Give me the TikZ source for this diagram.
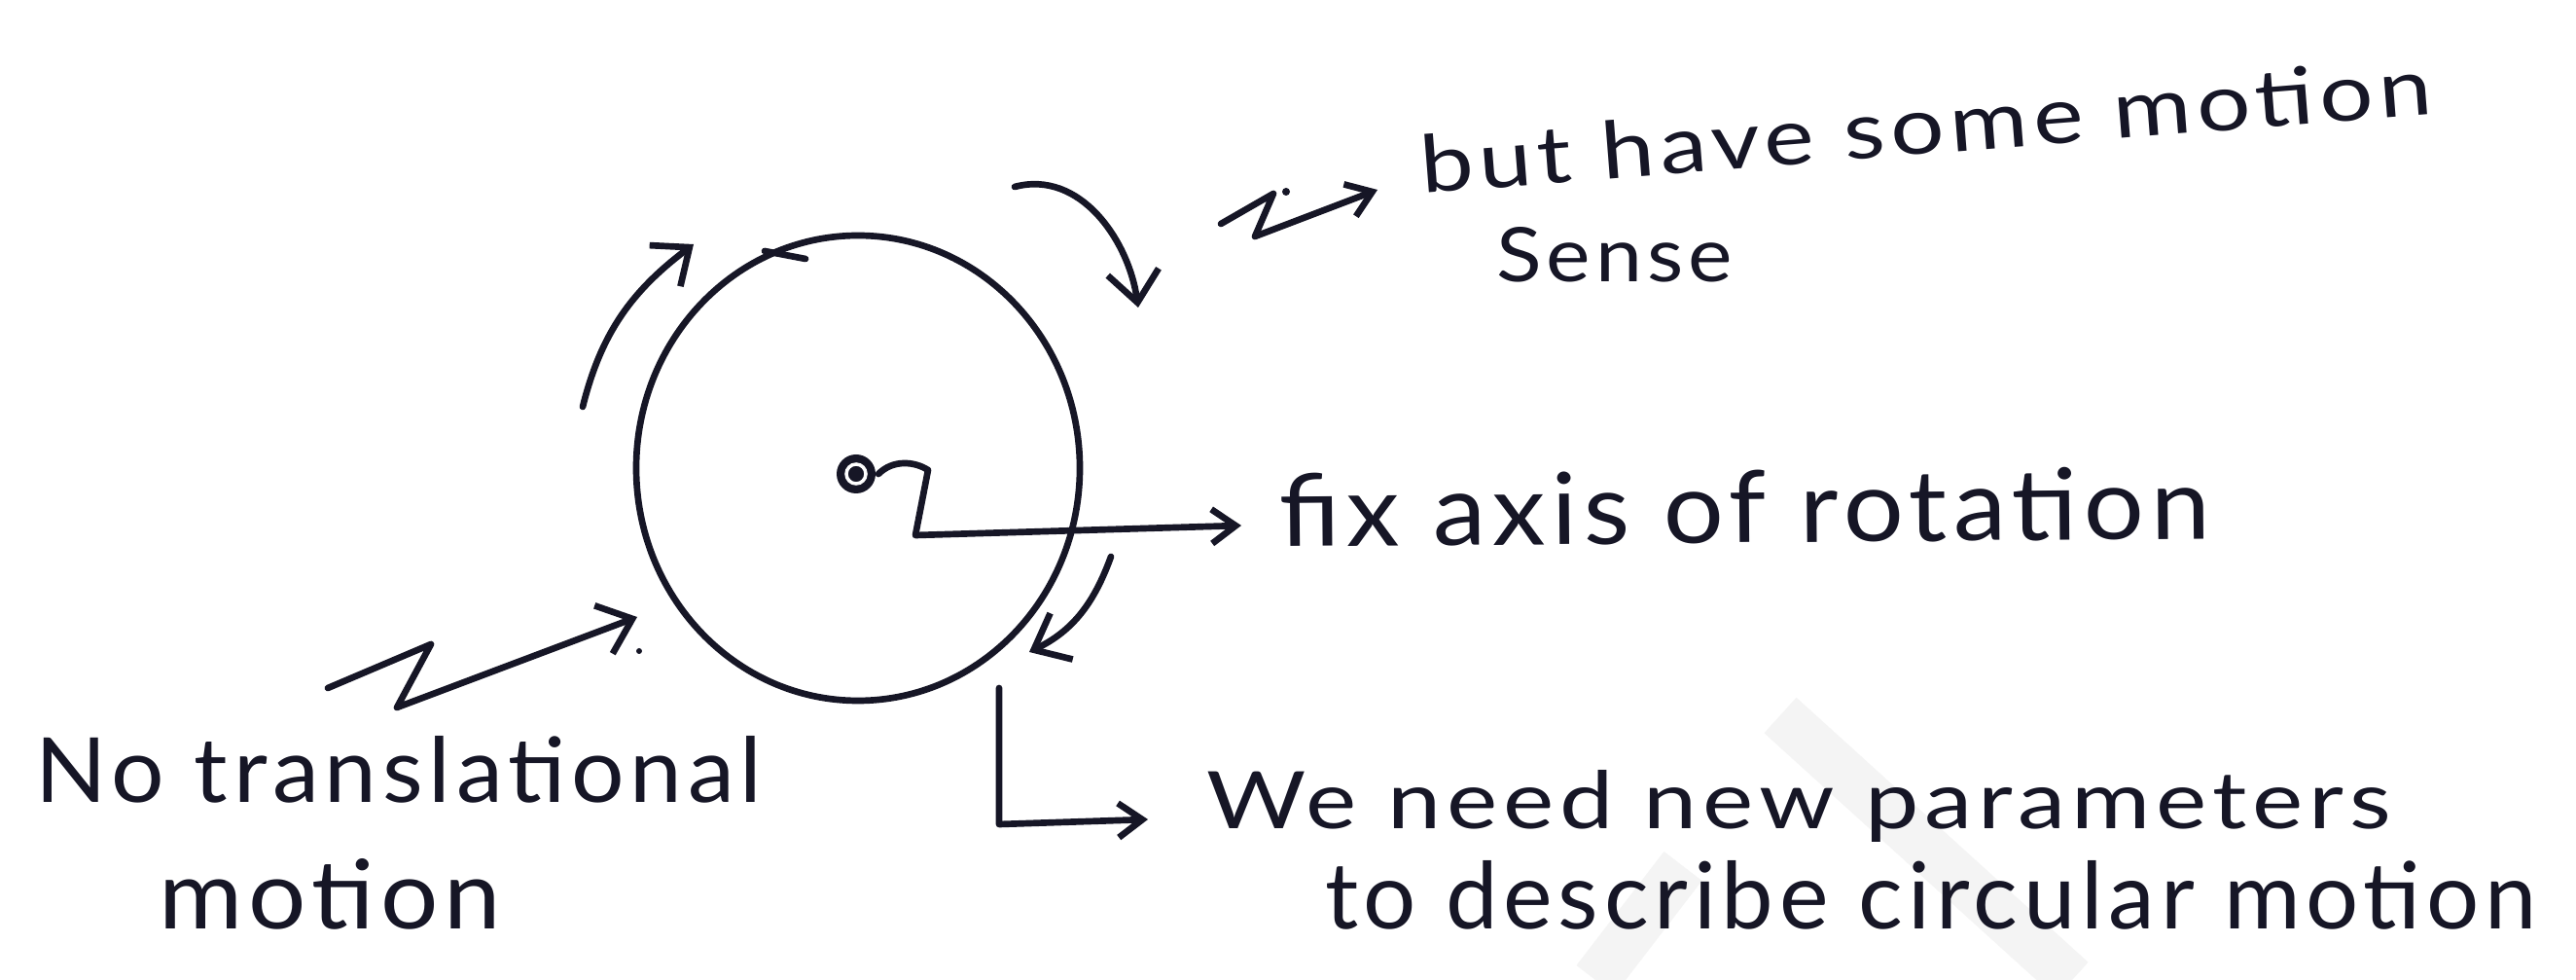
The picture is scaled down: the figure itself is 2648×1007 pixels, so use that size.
\documentclass[tikz,border=0pt]{standalone}
\usepackage{fontspec}
\setmainfont{Lato}[LetterSpace=6]
\usepackage{graphicx}
\usetikzlibrary{arrows.meta}
\definecolor{ink}{RGB}{22,22,38}
\definecolor{wmark}{RGB}{244,244,244}
\begin{document}
\begin{tikzpicture}[x=0.01cm,y=0.01cm,
  hand/.style={draw=ink,line width=1.9pt,line cap=round,line join=round},
  bigarrow/.style={-{Straight Barb[length=9pt,width=15pt,line width=1.9pt]}},
  smallarrow/.style={-{Straight Barb[length=7pt,width=10pt,line width=1.9pt]}},
  lbl/.style={inner sep=0pt,outer sep=0pt,anchor=base west,text=ink},
  stray/.style={fill=ink},
  band/.style={draw=wmark,line width=14pt}]
\useasboundingbox (0,0) rectangle (2648,-1007);
\fill[white] (0,0) rectangle (2648,-1007);

% faint watermark
\draw[band] (1830,-735) -- (2130,-1007);
\draw[band] (1640,-1007) -- (1730,-890);

% wheel
\draw[hand] (882,-481) ellipse [x radius=228, y radius=239];
\draw[hand] (786,-258) -- (828,-266);

% axis dot
\coordinate (dot) at (880,-487);
\fill[ink] (dot) circle (20);
\draw[white,line width=1pt] (dot) circle (10);
\fill[ink] (dot) circle (6);

% rotation sense arrows
\coordinate (tlS) at (599,-418); \coordinate (tlE) at (713,-251);
\draw[hand,bigarrow] (tlS) to[out=76,in=217] (tlE);
\coordinate (trS) at (1043,-192); \coordinate (trE) at (1170,-316);
\draw[hand,bigarrow] (trS) to[out=15,in=98] (trE);
\coordinate (brS) at (1142,-572); \coordinate (brE) at (1058,-670);
\draw[hand,bigarrow] (brS) to[out=-110,in=26] (brE);

% axis pointer
\coordinate (ax1) at (903,-487); \coordinate (ax2) at (954,-483);
\coordinate (ax3) at (941,-550); \coordinate (axE) at (1276,-540);
\draw[hand,smallarrow] (ax1) .. controls (918,-472) and (940,-474) .. (ax2) -- (ax3) -- (axE);

% zigzag to "but have some motion"
\coordinate (z1) at (1255,-230); \coordinate (z2) at (1309,-199);
\coordinate (z3) at (1290,-243); \coordinate (zE) at (1416,-195);
\draw[hand,smallarrow] (z1) -- (z2) -- (z3) -- (zE);
\fill[stray] (1322,-197) circle (4);

% zigzag from "No translational"
\coordinate (n1) at (337,-707); \coordinate (n2) at (443,-662);
\coordinate (n3) at (408,-727); \coordinate (nE) at (655,-634);
\draw[hand,bigarrow] (n1) -- (n2) -- (n3) -- (nE);
\fill[stray] (657,-669) circle (3);

% L-shaped pointer
\coordinate (l1) at (1027,-707); \coordinate (l2) at (1027,-847);
\coordinate (lE) at (1180,-842);
\draw[hand,smallarrow] (l1) -- (l2) -- (lE);

% labels
\node[lbl,rotate=4.5] (t1) at (1462,-199) {\resizebox{10.42cm}{0.60cm}{but have some motion}};
\node[lbl] (t2) at (1538,-290) {\resizebox{2.43cm}{0.56cm}{Sense}};
\node[lbl,rotate=0.5] (t3) at (1315,-562) {\resizebox{9.57cm}{0.75cm}{fix axis of rotation}};
\fill[stray] (1721,-541) circle (4);
\node[lbl] (t4) at (37,-825) {\resizebox{7.46cm}{0.68cm}{No translational}};
\node[lbl] (t5) at (163,-955) {\resizebox{3.52cm}{0.72cm}{motion}};
\node[lbl] (t6) at (1240,-852) {\resizebox{12.17cm}{0.60cm}{We need new parameters}};
\node[lbl] (t7) at (1362,-955) {\resizebox{12.45cm}{0.70cm}{to describe circular motion}};
\end{tikzpicture}
\end{document}
